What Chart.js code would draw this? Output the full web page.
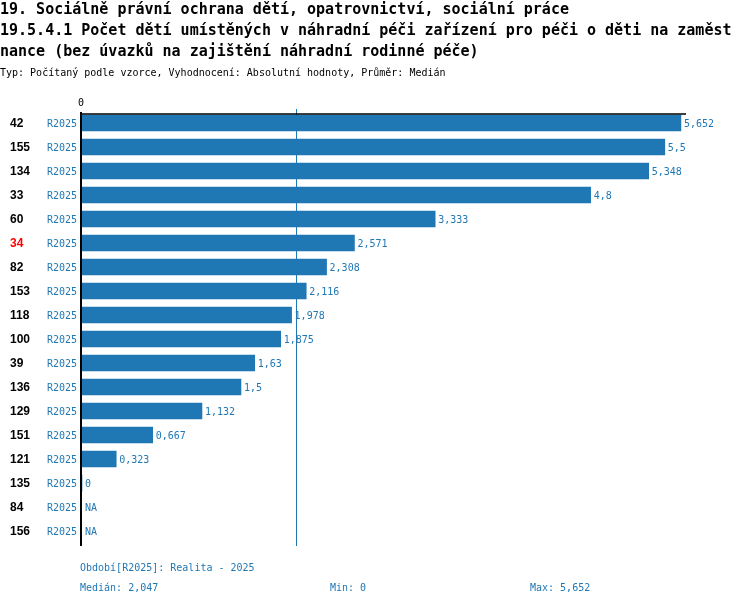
<!DOCTYPE html>
<html>
<head>
<meta charset="utf-8">
<script src="https://cdn.jsdelivr.net/npm/chart.js@4"></script>
<style>
  body { margin: 0; background: #fff; }
  #wrap { position: relative; width: 750px; height: 606px; }
</style>
</head>
<body>
<div id="wrap"><canvas id="chart"></canvas></div>
<script>
const titleLines = [
    '19. Sociálně právní ochrana dětí, opatrovnictví, sociální práce',
    '19.5.4.1 Počet dětí umístěných v náhradní péči zařízení pro péči o děti na zaměst',
    'nance (bez úvazků na zajištění náhradní rodinné péče)'
];
const subtitle = 'Typ: Počítaný podle vzorce, Vyhodnocení: Absolutní hodnoty, Průměr: Medián';

const ids = ['42', '155', '134', '33', '60', '34', '82', '153', '118', '100', '39', '136', '129', '151', '121', '135', '84', '156'];
const periods = ['R2025', 'R2025', 'R2025', 'R2025', 'R2025', 'R2025', 'R2025', 'R2025', 'R2025', 'R2025', 'R2025', 'R2025', 'R2025', 'R2025', 'R2025', 'R2025', 'R2025', 'R2025'];
const values = [5.652, 5.5, 5.348, 4.8, 3.333, 2.571, 2.308, 2.116, 1.978, 1.875, 1.63, 1.5, 1.132, 0.667, 0.323, 0, null, null];
const highlightId = '34';
const median = 2.047;
const minValue = 0;
const maxValue = 5.652;
const xTicks = [0];

const blue = '#1f77b4';
const mono = '"DejaVu Sans Mono", "Liberation Mono", monospace';

function fmt(v) {
    if (v === null) return 'NA';
    return String(v).replace('.', ',');
}

// everything that is not a bar gets drawn here
const decor = {
    id: 'decor',
    afterDatasetsDraw(chart) {
        const c = chart.ctx;
        const x = chart.scales.x;
        const y = chart.scales.y;
        const area = chart.chartArea;
        const x0 = x.getPixelForValue(0);
        const half = 8;

        c.save();
        c.textBaseline = 'middle';

        // titles
        c.fillStyle = '#000';
        c.font = 'bold 15px ' + mono;
        c.textAlign = 'left';
        titleLines.forEach((t, i) => c.fillText(t, 0, 10 + i * 21));
        c.font = '10px ' + mono;
        c.fillText(subtitle, 0, 73);

        // median line
        const mx = Math.floor(x.getPixelForValue(median)) - 1.5;
        c.strokeStyle = blue;
        c.lineWidth = 1;
        c.beginPath();
        c.moveTo(mx, y.getPixelForValue(0) - half - 6);
        c.lineTo(mx, area.bottom + 3);
        c.stroke();

        // axes
        c.strokeStyle = '#000';
        c.lineWidth = 2;
        c.beginPath();
        c.moveTo(x0 - 1, y.getPixelForValue(0) - half - 3);
        c.lineTo(x0 - 1, area.bottom + 3);
        c.stroke();
        c.lineWidth = 1.5;
        c.beginPath();
        const topY = y.getPixelForValue(0) - half - 1;
        c.moveTo(x0 - 2, topY);
        c.lineTo(area.right, topY);
        c.stroke();

        // x tick
        c.fillStyle = '#000';
        c.font = '10px ' + mono;
        c.textAlign = 'center';
        xTicks.forEach(t => c.fillText(String(t), x.getPixelForValue(t) - 1, topY - 11));

        // row labels + value labels
        const meta = chart.getDatasetMeta(0);
        ids.forEach((id, i) => {
            const py = y.getPixelForValue(i);
            c.textAlign = 'left';
            c.font = 'bold 12px "Liberation Sans", Arial, sans-serif';
            c.fillStyle = id === highlightId ? '#ff0000' : '#000';
            c.fillText(id, 10, py + 1);

            c.font = '10px ' + mono;
            c.fillStyle = blue;
            c.textAlign = 'right';
            c.fillText(periods[i], x0 - 5, py + 1);

            c.textAlign = 'left';
            const v = values[i];
            const end = v === null ? x0 : meta.data[i].x;
            c.fillText(fmt(v), end + 3, py + 1);
        });

        // footer
        c.fillStyle = blue;
        c.font = '10px ' + mono;
        c.textAlign = 'left';
        c.fillText('Období[R2025]: Realita - 2025', 80, 568);
        c.fillText('Medián: ' + fmt(median), 80, 588);
        c.fillText('Min: ' + fmt(minValue), 330, 588);
        c.fillText('Max: ' + fmt(maxValue), 530, 588);
        c.restore();
    }
};

new Chart(document.getElementById('chart'), {
    type: 'bar',
    data: {
        labels: ids,
        datasets: [{
            data: values,
            backgroundColor: blue,
            borderWidth: 0,
            barThickness: 16
        }]
    },
    options: {
        indexAxis: 'y',
        responsive: true,
        maintainAspectRatio: false,
        animation: false,
        layout: { padding: { left: 82, right: 64, top: 111, bottom: 63 } },
        plugins: {
            legend: { display: false },
            tooltip: { enabled: false }
        },
        scales: {
            x: { display: false, min: 0, max: 5.7 },
            y: { display: false }
        }
    },
    plugins: [decor]
});
</script>
</body>
</html>
